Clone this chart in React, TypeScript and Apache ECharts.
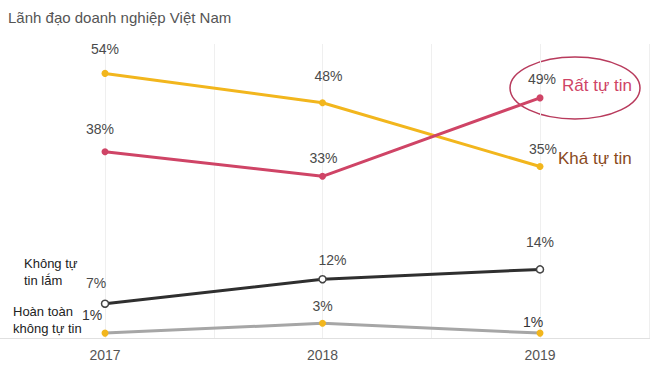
import React, { useEffect, useRef } from "react";
import * as echarts from "echarts";

const years = [2017, 2018, 2019];
const ratTuTin = [38, 33, 49];
const khaTuTin = [54, 48, 35];
const khongTuTinLam = [7, 12, 14];
const hoanToanKhong = [1, 3, 1];
const gridXs = [2017, 2017.5, 2018, 2018.5, 2019, 2019.5];
const title = "Lãnh đạo doanh nghiệp Việt Nam";

const FONT = "Liberation Sans, Arial, sans-serif";

export default function App() {
  const ref = useRef<HTMLDivElement>(null);
  useEffect(() => {
    document.body.style.margin = "0";
    const chart = echarts.init(ref.current!, null, { renderer: "svg" });
    const lbl = (vals: number[], offsets: number[][], colors: string[] = ["#4a4a4a", "#4a4a4a", "#4a4a4a"]) =>
      vals.map((v, i) => ({
        value: [years[i], v],
        label: {
          show: true,
          position: "top",
          distance: 5,
          offset: offsets[i],
          formatter: v + "%",
          color: colors[i],
          fontSize: 14,
          fontFamily: FONT,
        },
      }));
    chart.setOption({
      animation: false,
      grid: { left: 0, right: 0, top: 44, bottom: 42 },
      xAxis: {
        type: "value",
        min: 2016.5172,
        max: 2019.5057,
        axisLine: { show: true, onZero: false, lineStyle: { color: "#e0e0e0", width: 1 } },
        axisTick: { show: false },
        splitLine: { show: false },
        axisLabel: {
          color: "#555",
          fontSize: 14,
          fontFamily: FONT,
          margin: 10,
          customValues: years,
          formatter: (v: number) => (Number.isInteger(v) ? String(v) : ""),
        },
      },
      yAxis: {
        type: "value",
        min: 0,
        max: 60,
        show: false,
        splitLine: { show: false },
      },
      series: [
        {
          type: "line",
          data: lbl(hoanToanKhong, [[-13, -3], [0, -2], [-7, 4]], ["#333", "#4a4a4a", "#333"]),
          lineStyle: { color: "#a6a6a6", width: 3 },
          itemStyle: { color: "#f2b61d" },
          symbol: "circle",
          symbolSize: 7,
          z: 2,
          markLine: {
            silent: true,
            symbol: "none",
            label: { show: false },
            lineStyle: { color: "#efefef", width: 1, type: "solid" },
            data: gridXs.map((x) => ({ xAxis: x })),
            z: 0,
          },
        },
        {
          type: "line",
          data: lbl(khongTuTinLam, [[-9, -4], [10, -3], [0, -11]]),
          lineStyle: { color: "#2f2f2f", width: 3 },
          itemStyle: { color: "#fff", borderColor: "#444", borderWidth: 1.5 },
          symbol: "circle",
          symbolSize: 7,
          z: 3,
        },
        {
          type: "line",
          data: lbl(khaTuTin, [[0, -9], [6, -11], [3, -2]]),
          lineStyle: { color: "#f2b61d", width: 3 },
          itemStyle: { color: "#f2b61d" },
          symbol: "circle",
          symbolSize: 7,
          z: 4,
        },
        {
          type: "line",
          data: lbl(ratTuTin, [[-5, -7], [1, -3], [2, -3]]),
          lineStyle: { color: "#cf4466", width: 3 },
          itemStyle: { color: "#cf4466" },
          symbol: "circle",
          symbolSize: 7,
          z: 5,
        },
      ],
      graphic: [
        {
          type: "text",
          left: 8,
          top: 10,
          style: { text: title, fill: "#555", fontSize: 15, fontFamily: FONT },
        },
        {
          type: "ellipse",
          shape: { cx: 575, cy: 88, rx: 65, ry: 31 },
          style: { fill: "none", stroke: "#b83a5c", lineWidth: 1.5 },
        },
        {
          type: "text",
          x: 562,
          y: 77,
          style: { text: "Rất tự tin", fill: "#cf4466", fontSize: 17, fontFamily: FONT },
        },
        {
          type: "text",
          x: 558,
          y: 150,
          style: { text: "Khá tự tin", fill: "#8a4a1c", fontSize: 17, fontFamily: FONT },
        },
        {
          type: "text",
          x: 24,
          y: 255,
          style: { text: "Không tự\ntin lắm", fill: "#222", fontSize: 13, lineHeight: 17, fontFamily: FONT, align: "left" },
        },
        {
          type: "text",
          x: 13,
          y: 303,
          style: { text: "Hoàn toàn\nkhông tự tin", fill: "#222", fontSize: 13, lineHeight: 17, fontFamily: FONT, align: "left" },
        },
      ],
    });
    return () => chart.dispose();
  }, []);
  return <div ref={ref} style={{ width: 650, height: 380 }} />;
}
